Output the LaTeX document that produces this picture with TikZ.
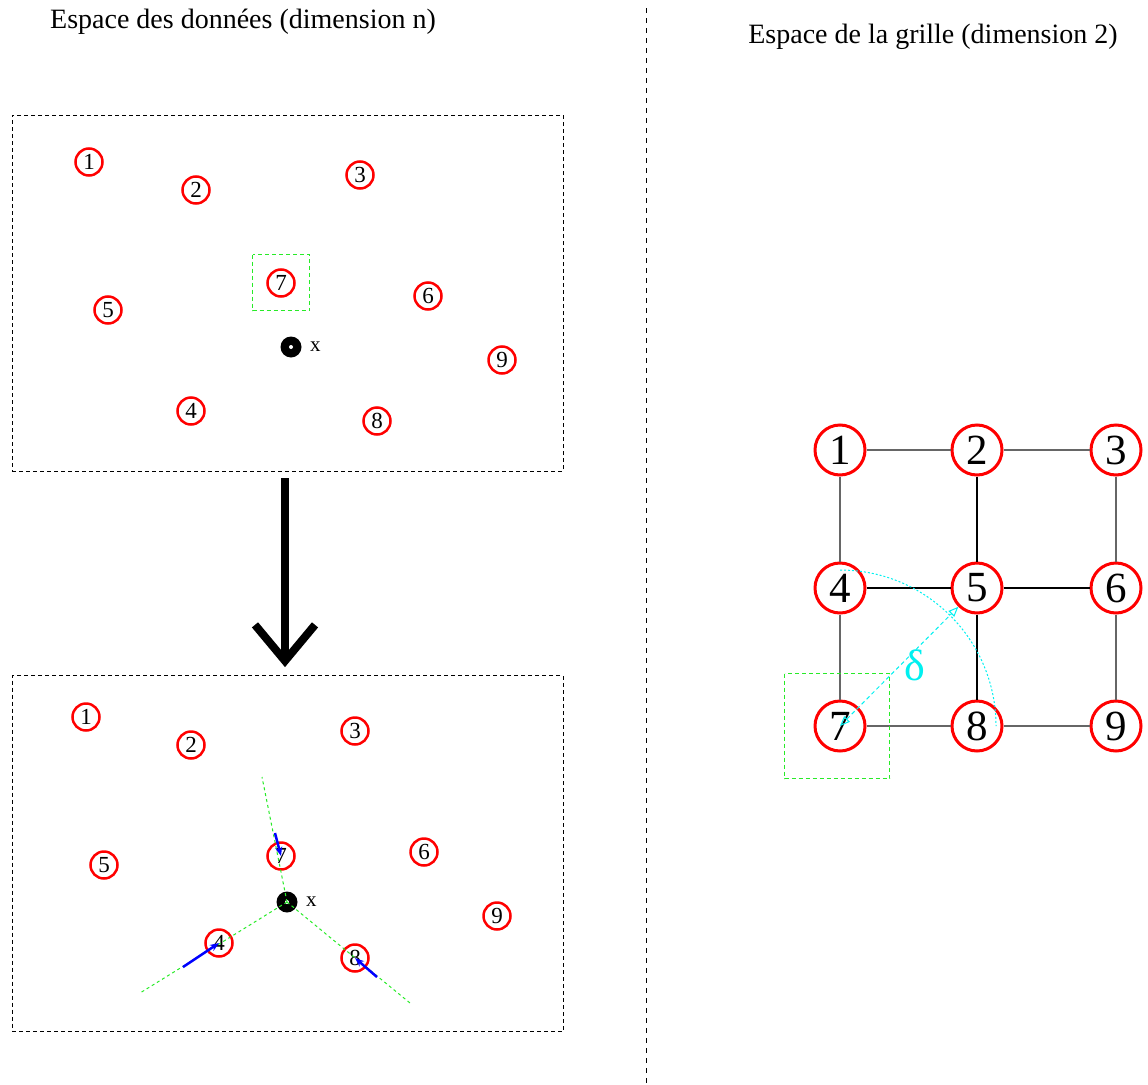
\documentclass[tikz,border=0pt]{standalone}
\usepackage{fontspec}
\setmainfont{Liberation Serif}
\usepackage{tikz}
\usetikzlibrary{arrows.meta,positioning,calc}
\definecolor{figgreen}{RGB}{40,235,40}
\definecolor{figcyan}{RGB}{0,240,240}

\begin{document}
\begin{tikzpicture}[
    x=1pt, y=1pt,
    titre/.style={font=\fontsize{28}{32}\selectfont},
    panneau/.style={draw, dash pattern=on 4pt off 3pt, line width=0.8pt,
                    minimum width=551pt, minimum height=356pt, inner sep=0pt},
    neurone/.style={circle, draw=red, line width=2.5pt, minimum size=27pt,
                    inner sep=0pt, font=\fontsize{23}{23}\selectfont},
    gneurone/.style={circle, draw=red, line width=3pt, minimum size=50pt,
                     inner sep=0pt, font=\fontsize{43}{43}\selectfont},
    donnee/.style={circle, fill=black, minimum size=21pt, inner sep=0pt},
    trou/.style={circle, fill=white, minimum size=4pt, inner sep=0pt},
    lien/.style={line width=1.1pt, black!60},
    liennoir/.style={line width=1.1pt, black},
    voisin/.style={draw=figgreen, dash pattern=on 4pt off 3pt, line width=1.2pt},
    rayon/.style={figgreen, dash pattern=on 3pt off 3pt, line width=1pt},
    maj/.style={-{Stealth[length=9pt,width=7pt]}, blue, line width=2.5pt}
]
\useasboundingbox (0,0) rectangle (1148,-1084);

% titres et séparation
\node[titre] (tdonnees) at (243,-22) {Espace des données (dimension n)};
\node[titre] (tgrille) at (933,-37) {Espace de la grille (dimension 2)};
\draw[dash pattern=on 5pt off 5pt, line width=0.8pt] (646,-8) -- (646,-1084);

% espace des données : avant
\node[panneau] (haut) at (287.5,-293) {};
\node[neurone] (h1) at (89,-162) {1};
\node[neurone] (h2) at (196,-190) {2};
\node[neurone] (h3) at (360,-175) {3};
\node[neurone] (h4) at (191,-411) {4};
\node[neurone] (h5) at (108,-310) {5};
\node[neurone] (h6) at (428,-296) {6};
\node[neurone] (h7) at (281,-283) {7};
\node[neurone] (h8) at (377,-421) {8};
\node[neurone] (h9) at (502,-360) {9};
\node[donnee] (hx) at (291,-347) {};
\node[trou] at (hx) {};
\node[font=\fontsize{21}{21}\selectfont, right=5pt of hx] (hxl) {x};
\draw[voisin] (252.5,-254.5) rectangle (309.5,-310.5);

% passage à l'étape suivante
\node[panneau] (bas) at (287.5,-853.5) {};
\draw[line width=8pt, -{Straight Barb[length=36pt,width=60pt]},
      shorten <=7pt, shorten >=8pt] (haut.south -| 285,0) -- (bas.north -| 285,0);

% espace des données : après
\node[neurone] (b1) at (86,-717) {1};
\node[neurone] (b2) at (191,-745) {2};
\node[neurone] (b3) at (355,-731) {3};
\node[neurone] (b4) at (219,-943) {4};
\node[neurone] (b5) at (104,-865) {5};
\node[neurone] (b6) at (424,-852) {6};
\node[neurone] (b7) at (281,-856) {7};
\node[neurone] (b8) at (355,-958) {8};
\node[neurone] (b9) at (497,-916) {9};
\node[donnee] (bx) at (287,-902) {};
\node[trou] at (bx) {};
\node[font=\fontsize{21}{21}\selectfont, right=5pt of bx] (bxl) {x};

\coordinate (f7) at (262,-777);
\coordinate (f4) at (140,-993);
\coordinate (f8) at (410,-1003);
\draw[rayon] (bx.center) -- (f7);
\draw[rayon] (bx.center) -- (f4);
\draw[rayon] (bx.center) -- (f8);

\coordinate (d7) at (275,-833);
\coordinate (d4) at (183,-967);
\coordinate (d8) at (377,-977);
\draw[maj] (d7) -- (b7.center);
\draw[maj] (d4) -- (b4.center);
\draw[maj] (d8) -- (b8.center);

% grille 3x3
\node[gneurone] (g1) at (840,-450) {1};
\node[gneurone] (g2) at (977,-450) {2};
\node[gneurone] (g3) at (1116,-450) {3};
\node[gneurone] (g4) at (840,-588) {4};
\node[gneurone] (g5) at (977,-588) {5};
\node[gneurone] (g6) at (1116,-588) {6};
\node[gneurone] (g7) at (840,-726) {7};
\node[gneurone] (g8) at (977,-726) {8};
\node[gneurone] (g9) at (1116,-726) {9};

\draw[lien] (g1) -- (g2);
\draw[lien] (g2) -- (g3);
\draw[lien] (g7) -- (g8);
\draw[lien] (g8) -- (g9);
\draw[lien] (g1) -- (g4);
\draw[lien] (g4) -- (g7);
\draw[lien] (g3) -- (g6);
\draw[lien] (g6) -- (g9);
\draw[liennoir] (g4) -- (g5);
\draw[liennoir] (g5) -- (g6);
\draw[liennoir] (g2) -- (g5);
\draw[liennoir] (g5) -- (g8);

% voisinage de rayon delta
\draw[voisin] (784.5,-673.5) rectangle (889.5,-778.5);
\draw[figcyan, dash pattern=on 2pt off 2pt, line width=1pt]
     ($(g7.center)+(0,156)$) arc[start angle=90, end angle=0, radius=156pt];
\draw[figcyan, dash pattern=on 4pt off 3pt, line width=1pt,
      {Triangle[open,length=10pt,width=8pt]}-{Triangle[open,length=10pt,width=8pt]}]
     (g7.center) -- (g5);
\node[text=figcyan, font=\fontsize{44}{44}\selectfont] (delta) at (915,-665) {δ};

\end{tikzpicture}
\end{document}
